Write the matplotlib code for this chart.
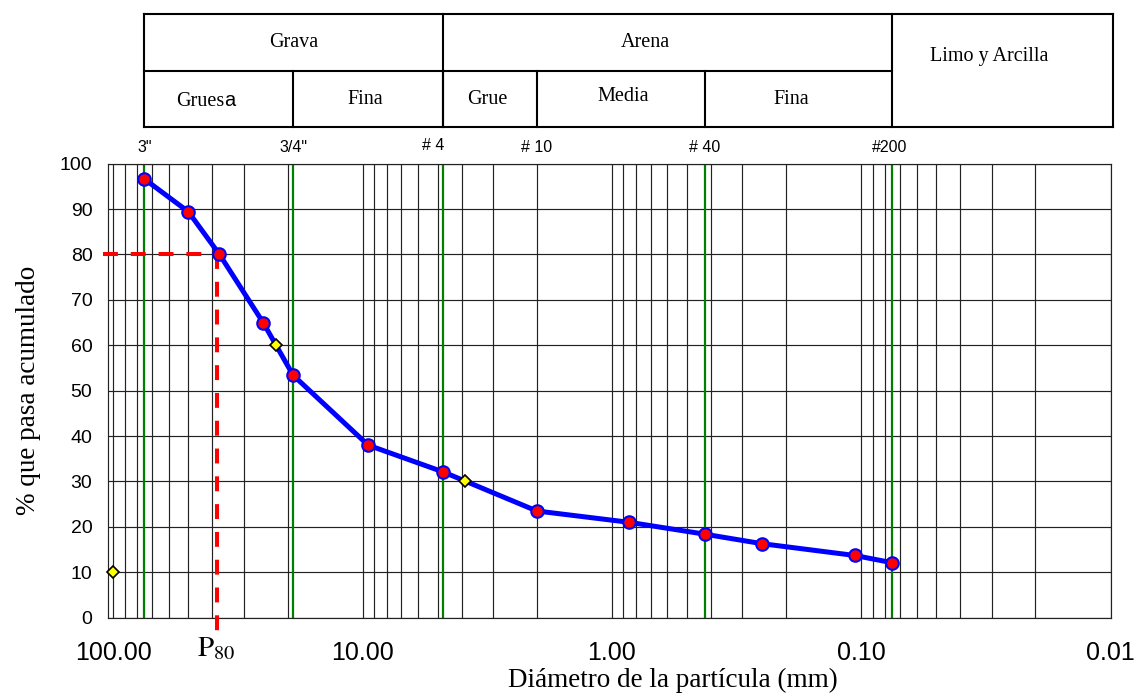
import numpy as np
import matplotlib
matplotlib.use("Agg")
import matplotlib.pyplot as plt
from matplotlib.transforms import blended_transform_factory
from matplotlib.ticker import FixedLocator, NullFormatter

plt.rcParams['mathtext.fontset'] = 'stix'

# curva granulometrica
tamiz_mm = [75, 50, 37.5, 25, 19, 9.5, 4.75, 2.0, 0.85, 0.425, 0.25, 0.106, 0.075]
pasa_pct = [96.6, 89.4, 80.0, 64.9, 53.4, 38.0, 32.1, 23.5, 21.0, 18.4, 16.3, 13.7, 12.1]

# D10, D30, D60 (diamantes amarillos)
d_mm = [100, 22.25, 3.88]
d_pct = [10, 60, 30]

p80 = 38.5

# tamices de referencia (lineas verdes) y etiquetas
ref_mm = [75, 19, 4.75, 0.425, 0.075]
ref_lbl_mm = [75, 19, 4.75, 2.0, 0.425, 0.075]
ref_lbl_txt = ['3"', '3/4"', '# 4', '# 10', '# 40', '#200']

# tabla de clasificacion
fila1_lim = [75, 4.75, 0.075, 0.01]
fila1_txt = ['Grava', 'Arena', 'Limo y Arcilla']
fila2_lim = [75, 19, 4.75, 2.0, 0.425, 0.075]
fila2_txt = ['Gruesa', 'Fina', 'Grue', 'Media', 'Fina']

xticks = [100, 10, 1, 0.1, 0.01]
xtick_lbl = ['100.00', '10.00', '1.00', '0.10', '0.01']

serif = 'Liberation Serif'
sans = 'Liberation Sans'

W, H = 1137, 699
fig = plt.figure(figsize=(W / 100, H / 100), dpi=100)
ax = fig.add_axes([107.7 / W, 1 - 617.7 / H, (1110.5 - 107.7) / W, (617.7 - 163.6) / H])

ax.set_xscale('log')
ax.set_xlim(105.3, 0.01)
ax.set_ylim(0, 100)

# rejilla
minors = [m * 10.0 ** e for e in range(-2, 2) for m in range(2, 10)]
ax.xaxis.set_major_locator(FixedLocator(xticks))
ax.xaxis.set_minor_locator(FixedLocator(minors))
ax.xaxis.set_minor_formatter(NullFormatter())
ax.set_xticklabels(xtick_lbl, fontfamily=sans, fontsize=18)
ax.set_yticks(range(0, 101, 10))
ax.set_yticklabels([str(v) for v in range(0, 101, 10)], fontfamily=sans, fontsize=14)
ax.tick_params(axis='x', which='both', length=0, pad=17)
ax.tick_params(axis='y', which='both', length=0, pad=11)
ax.grid(True, which='both', color='#222222', linewidth=0.85)
for s in ax.spines.values():
    s.set_color('#222222')
    s.set_linewidth(0.85)

for v in ref_mm:
    ax.axvline(v, color='#008000', linewidth=1.6, zorder=2)

# P80
dash = dict(color='red', linewidth=2.9, dashes=(3.7, 3.2), clip_on=False, zorder=3)
ax.plot([110, p80], [80, 80], **dash)
ax.plot([p80, p80], [80, -3.4], **dash)

ax.plot(tamiz_mm, pasa_pct, color='#0000ff', linewidth=3.6, zorder=4)
ax.plot(tamiz_mm, pasa_pct, linestyle='none', marker='o', markersize=9,
        markerfacecolor='red', markeredgecolor='#0000ff', markeredgewidth=1.5, zorder=5)
ax.plot(d_mm, d_pct, linestyle='none', marker='D', markersize=6.5,
        markerfacecolor='#ffff00', markeredgecolor='black', markeredgewidth=1.2,
        clip_on=False, zorder=6)

ax.text(p80, -6.8, r'$\mathrm{P}_{80}$', ha='center', va='center', fontsize=21)

fig.text(673 / W, 1 - 680 / H, 'Diámetro de la partícula (mm)', ha='center', va='center',
         fontfamily=serif, fontsize=19.5)
fig.text(29 / W, 1 - 390 / H, '% que pasa acumulado', ha='center', va='center',
         rotation=90, fontfamily=serif, fontsize=19.5)

# etiquetas de tamices
lbl_dx = {'# 4': -10, '#200': -3}
lbl_dy = {'# 4': 3}
for v, t in zip(ref_lbl_mm, ref_lbl_txt):
    ax.annotate(t, xy=(v, 100), xycoords='data',
                xytext=(lbl_dx.get(t, 0), 163.6 - 148 + lbl_dy.get(t, 0)),
                textcoords='offset pixels', ha='center', va='center',
                fontfamily=sans, fontsize=11.5, annotation_clip=False)

# tabla superior
tr = blended_transform_factory(ax.transData, fig.transFigure)
y_top, y_mid, y_bot = 1 - 14 / H, 1 - 70.7 / H, 1 - 127.3 / H
lk = dict(color='black', linewidth=1.5, transform=tr, clip_on=False,
          solid_capstyle='projecting')
x0, x1 = fila1_lim[0], 0.0098
ax.plot([x0, x1], [y_top, y_top], **lk)
ax.plot([x0, x1], [y_bot, y_bot], **lk)
ax.plot([x0, fila1_lim[2]], [y_mid, y_mid], **lk)
for v in fila1_lim[:-1] + [x1]:
    ax.plot([v, v], [y_top, y_bot], **lk)
for v in fila2_lim[1:-1]:
    ax.plot([v, v], [y_mid, y_bot], **lk)

def centro(a, b):
    return np.sqrt(a * b)

txt_dx = {'Arena': -22, 'Limo y Arcilla': -12}
for i, t in enumerate(fila1_txt):
    a, b = fila1_lim[i], fila1_lim[i + 1]
    yy = (y_top + y_mid) / 2 if t != 'Limo y Arcilla' else 1 - 56.5 / H
    ax.annotate(t, xy=(centro(a, b), yy), xycoords=tr, xytext=(txt_dx.get(t, 0), 0),
                textcoords='offset pixels', ha='center', va='center',
                fontfamily=serif, fontsize=14.5, annotation_clip=False)

fila2_dx = [0, -3, -3, 2, -7]
fila2_dy = [0, 0, 0, 2.5, -1]
for i, t in enumerate(fila2_txt):
    a, b = fila2_lim[i], fila2_lim[i + 1]
    xy = (centro(a, b), (y_mid + y_bot) / 2)
    if t == 'Gruesa':
        # la ultima letra va en otra fuente, como en el original
        ax.annotate('Grues', xy=xy, xycoords=tr, xytext=(6, -6.5),
                    textcoords='offset pixels', ha='right', va='baseline',
                    fontfamily=serif, fontsize=14.5, annotation_clip=False)
        ax.annotate('a', xy=xy, xycoords=tr, xytext=(5.5, -6.5),
                    textcoords='offset pixels', ha='left', va='baseline',
                    fontfamily=sans, fontsize=14.5, annotation_clip=False)
        continue
    ax.annotate(t, xy=xy, xycoords=tr, xytext=(fila2_dx[i], fila2_dy[i]),
                textcoords='offset pixels', ha='center', va='center',
                fontfamily=serif, fontsize=14.5, annotation_clip=False)

fig.savefig('out.png', dpi=100)
